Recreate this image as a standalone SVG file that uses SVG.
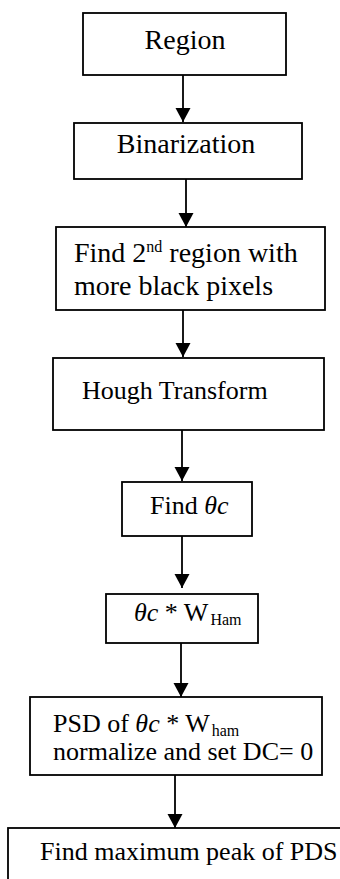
<svg xmlns="http://www.w3.org/2000/svg" width="340" height="879" viewBox="0 0 340 879">
<style>
.box{fill:#fff;stroke:#000;stroke-width:1.8}
.t{font-family:"Liberation Serif",serif;fill:#000}
.i{font-style:italic}
.c{stroke:#000;stroke-width:1.8;fill:none}
</style>
<defs>
<marker id="ah" markerUnits="userSpaceOnUse" markerWidth="16" markerHeight="16" viewBox="0 0 16 16" refX="14" refY="8" orient="auto">
<path d="M0,0.5 L14,8 L0,15.5 Z" fill="#000"/>
</marker>
</defs>
<rect width="340" height="879" fill="#fff"/>
<g id="connectors">
<line class="c" x1="183" y1="75" x2="183" y2="122" marker-end="url(#ah)"/>
<line class="c" x1="186" y1="179" x2="186" y2="227" marker-end="url(#ah)"/>
<line class="c" x1="183" y1="310" x2="183" y2="357" marker-end="url(#ah)"/>
<line class="c" x1="182" y1="430" x2="182" y2="481" marker-end="url(#ah)"/>
<line class="c" x1="182" y1="536" x2="182" y2="588" marker-end="url(#ah)"/>
<line class="c" x1="181" y1="643" x2="181" y2="697" marker-end="url(#ah)"/>
<line class="c" x1="175" y1="775" x2="175" y2="828" marker-end="url(#ah)"/>
</g>
<g id="n1">
<rect class="box" x="83" y="13" width="203" height="62"/>
<text class="t" x="185" y="49" font-size="28" text-anchor="middle">Region</text>
</g>
<g id="n2">
<rect class="box" x="74" y="123" width="228" height="56"/>
<text class="t" x="186" y="153" font-size="28" text-anchor="middle">Binarization</text>
</g>
<g id="n3">
<rect class="box" x="56" y="227" width="269" height="83"/>
<text class="t" x="74" y="262" font-size="28">Find 2<tspan font-size="16" dy="-10">nd</tspan><tspan dy="10"> region with</tspan></text>
<text class="t" x="74" y="295" font-size="28">more black pixels</text>
</g>
<g id="n4">
<rect class="box" x="53" y="358" width="271" height="72"/>
<text class="t" x="82" y="399" font-size="26">Hough Transform</text>
</g>
<g id="n5">
<rect class="box" x="122" y="482" width="130" height="54"/>
<text class="t" x="150" y="514" font-size="26">Find <tspan class="i">θc</tspan></text>
</g>
<g id="n6">
<rect class="box" x="106" y="594" width="152" height="49"/>
<text class="t" x="134" y="621" font-size="26"><tspan class="i">θc</tspan> * W<tspan font-size="16" dx="2" dy="4">Ham</tspan></text>
</g>
<g id="n7">
<rect class="box" x="30" y="697" width="292" height="78"/>
<text class="t" x="53" y="732" font-size="26">PSD of <tspan class="i">θc</tspan> * W<tspan font-size="16" dx="2" dy="4">ham</tspan></text>
<text class="t" x="53" y="760" font-size="26">normalize and set DC= 0</text>
</g>
<g id="n8">
<rect class="box" x="8" y="828" width="340" height="60"/>
<text class="t" x="40" y="860" font-size="26">Find maximum peak of PDS</text>
</g>
</svg>
